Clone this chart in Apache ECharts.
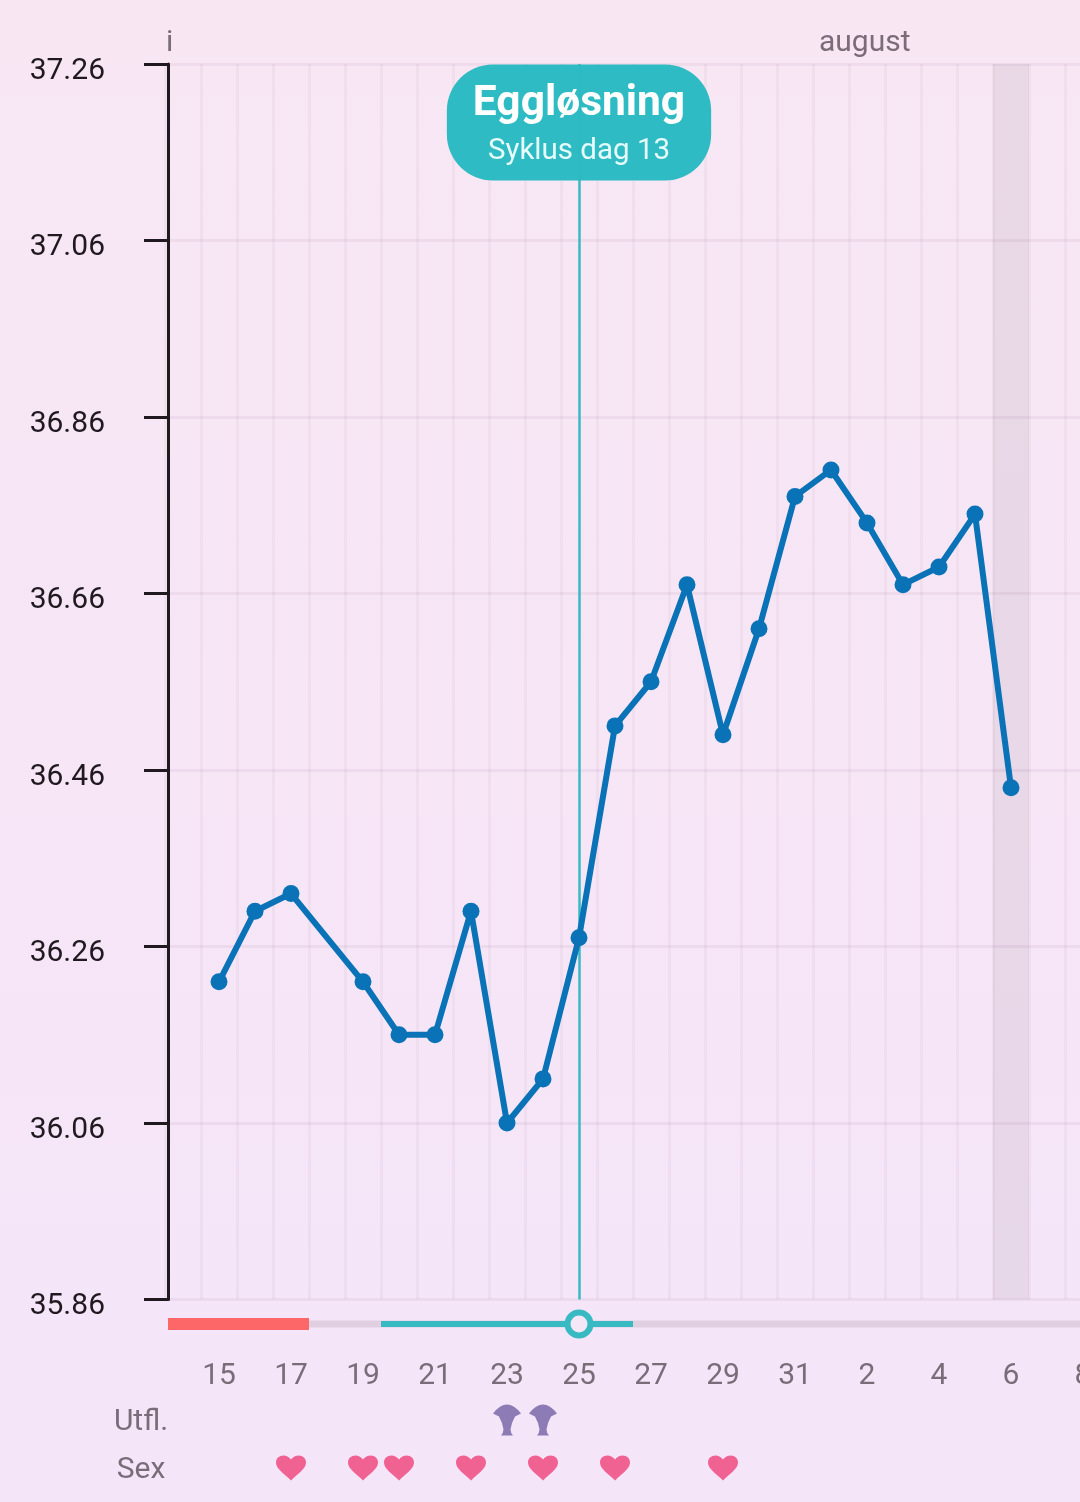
<!DOCTYPE html>
<html><head><meta charset="utf-8">
<style>html,body{margin:0;padding:0;background:#f6e6f5}#c{width:1080px;height:1502px}</style>
<script src="https://cdn.jsdelivr.net/npm/echarts@6/dist/echarts.min.js"></script>
</head><body><div id="c"></div>
<script>
const days = ['14','15','16','17','18','19','20','21','22','23','24','25','26','27','28','29','30','31','1','2','3','4','5','6','7','8'];
const temps = [null,36.22,36.30,36.32,null,36.22,36.16,36.16,36.30,36.06,36.11,36.27,36.51,36.56,36.67,36.50,36.62,36.77,36.80,36.74,36.67,36.69,36.75,36.44,null,null];
const yTicks = [35.86,36.06,36.26,36.46,36.66,36.86,37.06,37.26];
const yMin = 35.86, yMax = 37.26;
const periodDays = ['14','15','16','17'];
const fertileDays = ['20','21','22','23','24','25','26'];
const ovulationDay = '25';
const shadedDay = '6';
const rowNames = ['Utfl.','Sex'];
const dischargeDays = ['23','24'];
const sexDays = ['17','19','20','22','24','26','29'];
const monthLabels = ['i','august'];
const bubbleTitle = 'Eggløsning';
const bubbleSub = 'Syklus dag 13';

const HEART = 'path://M15 25 L13 23 C5 16 0 12 0 7 C0 3 3 0 7.5 0 C10 0 13 1.5 15 4 C17 1.5 20 0 22.5 0 C27 0 30 3 30 7 C30 12 25 16 17 23 Z';
const CUP = 'path://M0 9 Q14 -9 28 9 L22 12 Q18.5 18 17.5 25 Q17.5 28 20 31 L8 31 Q10.5 28 10.5 25 Q9.5 18 6 12 Z';
const FONT = 'Roboto';
const AXIS_X = 168;

function phaseRender(thick, color){
  return function(params, api){
    const c = api.coord([api.value(0), 0.5]);
    const w = api.size([1,0])[0];
    const x0 = Math.max(c[0]-w/2, AXIS_X);
    return {type:'rect', shape:{x:x0, y:c[1]-thick/2, width:c[0]+w/2-x0, height:thick}, style:{fill:color}};
  };
}
const phaseSeries = (list, thick, color, z) => ({
  type:'custom', xAxisIndex:1, yAxisIndex:1, z, silent:true, clip:false,
  renderItem: phaseRender(thick,color), data:list.map(d=>[days.indexOf(d)])
});
const GRID = {left:165, right:-21, outerBoundsMode:'none'};
const hiddenX = gi => ({type:'category', gridIndex:gi, data:days, show:false});

const chart = echarts.init(document.getElementById('c'), null, {renderer:'canvas'});
chart.setOption({
  animation:false,
  backgroundColor:{type:'linear',x:0,y:0,x2:0,y2:1,colorStops:[{offset:0,color:'#f8e7f3'},{offset:1,color:'#f4e5f9'}]},
  textStyle:{fontFamily:FONT},
  grid:[
    {...GRID, top:64, height:1235.5},
    {...GRID, top:1312, height:24},
    {...GRID, top:1396, height:96}
  ],
  xAxis:[
    {type:'category', gridIndex:0, data:days, boundaryGap:true,
     axisLine:{show:false}, axisTick:{show:false},
     axisLabel:{interval:i=>i%2===1, margin:62, fontSize:30, color:'#7b6c79', fontFamily:FONT, hideOverlap:false, showMinLabel:true, showMaxLabel:true},
     splitLine:{show:true, interval:0, lineStyle:{color:'rgba(130,70,120,0.05)', width:3}}},
    hiddenX(1), hiddenX(2)
  ],
  yAxis:[
    {type:'value', gridIndex:0, min:yMin, max:yMax, offset:-3,
     axisLine:{show:true, onZero:false, lineStyle:{color:'#201a20', width:3}},
     axisTick:{show:true, length:24, customValues:yTicks, lineStyle:{color:'#201a20', width:3}},
     axisLabel:{customValues:yTicks, margin:63, fontSize:30, color:'#201a20', fontFamily:FONT, verticalAlign:'top', lineHeight:14, formatter:v=>Number(v).toFixed(2)},
     splitLine:{show:true, customValues:yTicks, lineStyle:{color:'rgba(130,70,120,0.07)', width:3}}},
    {type:'value', gridIndex:1, min:0, max:1, show:false},
    {type:'category', gridIndex:2, data:rowNames, inverse:true,
     axisLine:{show:false}, axisTick:{show:false}, splitLine:{show:false},
     axisLabel:{margin:24, align:'center', fontSize:30, color:'#7b6c79', fontFamily:FONT, verticalAlign:'top', lineHeight:5}}
  ],
  series:[
    {type:'bar', name:'shade', xAxisIndex:0, yAxisIndex:0, barWidth:'100%', silent:true, z:1,
     itemStyle:{color:'rgba(106,100,104,0.1)'},
     data:days.map(d=>d===shadedDay?yMax:null)},
    {type:'line', name:'temp', xAxisIndex:0, yAxisIndex:0, data:temps, connectNulls:true, z:4,
     lineStyle:{color:'#0a72b6', width:6}, itemStyle:{color:'#0a72b6'},
     symbol:'circle', symbolSize:17, showSymbol:true, showAllSymbol:true,
     markLine:{silent:true, symbol:'none', z:3, label:{show:false}, animation:false,
       lineStyle:{color:'#38bac2', width:2.5, type:'solid'}, data:[{xAxis:ovulationDay}]},
     markPoint:{silent:true, z:10, animation:false, symbol:'rect', symbolSize:1, itemStyle:{color:'rgba(0,0,0,0)'},
       data:[{coord:[ovulationDay, yMax]}],
       label:{show:true, position:'bottom', distance:0, backgroundColor:'rgba(42,186,194,0.98)', borderRadius:46,
         padding:[16,26,5,26],
         formatter:'{a|'+bubbleTitle+'}\n{b|'+bubbleSub+'}',
         rich:{a:{fontFamily:FONT, fontSize:42.5, fontWeight:'bold', color:'#fff', lineHeight:48, align:'center'},
               b:{fontFamily:FONT, fontSize:29.5, color:'#e6fbfb', lineHeight:47, align:'center'}}}}},
    phaseSeries(days,7,'#dfcfe0',1),
    phaseSeries(periodDays,12,'#fd6767',3),
    phaseSeries(fertileDays,6,'#38bac2',2),
    {type:'scatter', xAxisIndex:1, yAxisIndex:1, z:5, silent:true, symbol:'circle', symbolSize:23,
     itemStyle:{color:'#f5e6f8', borderColor:'#38bac2', borderWidth:6, opacity:1},
     data:[[days.indexOf(ovulationDay),0.5]]},
    {type:'scatter', xAxisIndex:2, yAxisIndex:2, silent:true, symbol:CUP, symbolSize:[28,31], symbolKeepAspect:false,
     itemStyle:{color:'#8c7bb5', opacity:1}, data:dischargeDays.map(d=>[days.indexOf(d),rowNames[0]])},
    {type:'scatter', xAxisIndex:2, yAxisIndex:2, silent:true, symbol:HEART, symbolSize:[30,25], symbolKeepAspect:false,
     itemStyle:{color:'#f06292', opacity:1}, data:sexDays.map(d=>[days.indexOf(d),rowNames[1]])}
  ],
  graphic:[
    {type:'text', left:166, top:28, style:{text:monthLabels[0], font:'30px '+FONT, fill:'#7b6c79'}},
    {type:'text', left:819, top:28, style:{text:monthLabels[1], font:'30px '+FONT, fill:'#7b6c79'}}
  ]
});
</script></body></html>
